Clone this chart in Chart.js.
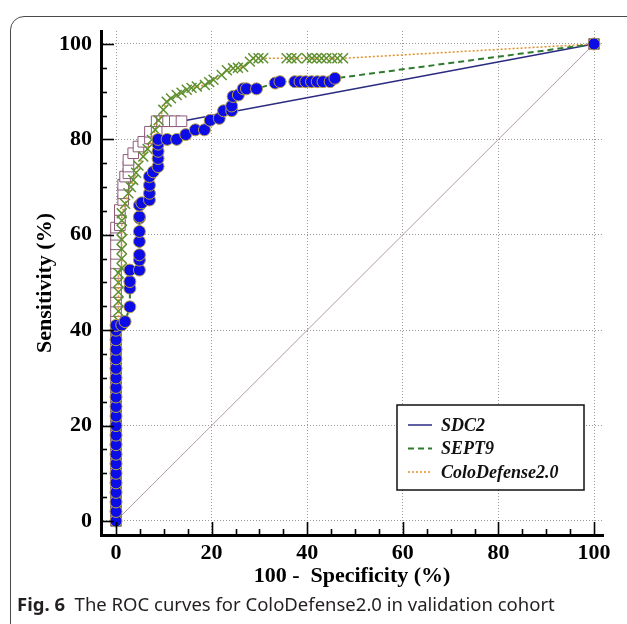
<!DOCTYPE html>
<html>
<head>
<meta charset="utf-8">
<script src="https://cdn.jsdelivr.net/npm/chart.js@4.4.0/dist/chart.umd.min.js"></script>
<style>
body { margin: 0; width: 627px; height: 624px; overflow: hidden; background: #fff; position: relative; }
#frame { position: absolute; left: 10px; top: 16px; width: 650px; height: 650px; border: 1.5px solid #4a4a4a; border-radius: 14px; }
#wrap { position: absolute; left: 0; top: 0; width: 627px; height: 592px; }
#caption { position: absolute; left: 17px; top: 592px; font-family: "Noto Sans", sans-serif; font-size: 18.5px; line-height: 24px; color: #231f20; white-space: nowrap; }
#caption b { font-weight: 700; }
</style>
</head>
<body>
<div id="frame"></div>
<div id="wrap"><canvas id="roc" width="627" height="592"></canvas></div>
<div id="caption"><b>Fig. 6</b>&nbsp; The ROC curves for ColoDefense2.0 in validation cohort</div>

<script>
// tick labels (both axes)
const tickVals = [0, 20, 40, 60, 80, 100];

// legend names
const seriesNames = ["SDC2", "SEPT9", "ColoDefense2.0"];

// SDC2 : 100 - specificity / sensitivity
const sdc2X = [0,0,0,0,0,0,0,0,0,0,0,0,0,0,0,0,0,0,0,0,0,0,0,0,0,0,0,0,0,0,0,0,
  0.8,0.8,0.8,1.5,1.5,1.5,1.9,2.6,2.6,2.6,3.6,4.7,5.7,7.1,7.1,8.5,8.5,9.6,10.9,12.3,13.7,100];
const sdc2Y = [0,2,4,6,8,10,12,14,16,18,20,22,24,26,28,30,32,34,36,38,40,42,44,46,48,50,52,54,56,58,60,61.5,
  62,63.5,65.2,67.3,68.7,70.5,72.2,72.9,74.3,75.7,77.1,78.5,79.5,80.2,81.6,81.6,83.8,83.8,83.8,83.8,83.8,100];

// SEPT9
const sept9X = [0,0,0,0,0,0,0,0,0,0,0,0,0,0,0,0,0,0,0,0,0,0,
  1.2,1.9,2.9,2.9,2.9,2.9,4.9,4.9,4.9,4.9,4.9,4.9,4.9,4.9,5.4,7,7,7,7,7.8,8.8,8.8,8.8,8.8,8.8,
  10.7,12.7,14.6,16.6,18.5,19.7,21.6,22.5,24.2,24.2,24.5,25.6,26.6,27.3,29.4,
  33.3,34.3,37.4,38.5,39.7,40.9,42.1,43.3,44.8,45.8,100];
const sept9Y = [0,2,4,6,8,10,12,14,16,18,20,22,24,26,28,30,32,34,36,38,40,41,
  41.1,41.8,44.9,48.8,50.2,52.6,52.6,54.7,55.8,58.6,60.7,63.5,63.8,66.2,66.7,67.3,68.7,70.4,72.2,73.2,74.3,76,77.5,79,80,
  80,80,81,82,82,84,84.4,86,86,87,89,89.3,90.6,90.6,90.6,
  91.8,92.1,92.1,92.1,92.1,92.1,92.1,92.1,92.1,92.8,100];

// ColoDefense2.0
const coloX = [0,0,0,0,0,0,0,0,0,0,0,0,0,0,0,0,0,0,0,0,0,
  0.5,0.5,0.5,0.5,0.5,0.5,1.2,1.2,1.2,1.2,1.2,1.2,1.2,1.9,2.6,3.1,3.6,4.2,4.7,5.7,6.6,7.5,8.2,8.9,9.9,10.6,11.5,
  12.7,13.7,14.8,15.8,16.9,18.6,19.5,20.4,22.1,23.2,24.5,25.5,26.6,28,28.7,29.8,30.8,
  35.7,36.7,37.8,39.9,41,42,43,44,45.2,46.3,47.5,100];
const coloY = [0,2,4,6,8,10,12,14,16,18,20,22,24,26,28,30,32,34,36,38,40,
  42,44,46,48,50,52,53,55,57,59,61,63,64.5,66.5,68.7,70,71.5,73,74.5,76.4,78,79.9,82,84,86.2,87.9,88.6,
  89.3,89.8,90.4,90.8,91.1,91.4,92,92.5,93.5,94.5,94.9,95,95.2,96.3,97,97,97,
  97,97,97,97,97,97,97,97,97,97,97,100];

// reference diagonal
const diagX = [0, 100];
const diagY = [0, 100];

function pts(xs, ys) {
  return xs.map((x, i) => ({ x: x, y: ys[i] }));
}

const serif = "'Liberation Serif', 'Times New Roman', serif";

// inward minor/major ticks + legend box
const extras = {
  id: "extras",
  afterDraw(chart) {
    const ctx = chart.ctx;
    const xs = chart.scales.x, ys = chart.scales.y;
    const a = chart.chartArea;
    ctx.save();
    ctx.strokeStyle = "#000";
    ctx.lineWidth = 1.6;
    for (let v = 0; v <= 100; v += 5) {
      const len = v % 20 === 0 ? 13 : 6;
      const px = Math.round(xs.getPixelForValue(v)) + 0.5;
      ctx.beginPath(); ctx.moveTo(px, a.bottom); ctx.lineTo(px, a.bottom - len); ctx.stroke();
      const py = Math.round(ys.getPixelForValue(v)) + 0.5;
      ctx.beginPath(); ctx.moveTo(a.left, py); ctx.lineTo(a.left + len, py); ctx.stroke();
    }

    // legend
    const bx = 397, by = 405, bw = 187, bh = 85;
    ctx.fillStyle = "#fff";
    ctx.fillRect(bx, by, bw, bh);
    ctx.lineWidth = 1.5;
    ctx.strokeStyle = "#111";
    ctx.strokeRect(bx, by, bw, bh);
    ctx.font = "italic bold 18px " + serif;
    ctx.textBaseline = "middle";
    seriesNames.forEach((name, i) => {
      const ds = chart.data.datasets.find(d => d.label === name);
      const yy = by + 20 + i * 23.5;
      ctx.strokeStyle = ds.borderColor;
      ctx.lineWidth = ds.borderWidth;
      ctx.setLineDash(ds.borderDash || []);
      ctx.beginPath(); ctx.moveTo(bx + 11, yy); ctx.lineTo(bx + 35, yy); ctx.stroke();
      ctx.setLineDash([]);
      ctx.fillStyle = "#111";
      ctx.fillText(name, bx + 44, yy + 1);
    });
    ctx.restore();
  }
};

new Chart("roc", {
  type: "line",
  data: {
    datasets: [
      {
        label: "SEPT9",
        data: pts(sept9X, sept9Y),
        borderColor: "#2e7a2e",
        borderWidth: 2,
        borderDash: [6, 4],
        pointStyle: "circle",
        pointRadius: 6,
        pointBackgroundColor: "#0c0ce6",
        pointBorderColor: "#b8a048",
        pointBorderWidth: 1,
        order: 1
      },
      {
        label: "ColoDefense2.0",
        data: pts(coloX, coloY),
        borderColor: "#e0902a",
        borderWidth: 1.5,
        borderDash: [2, 2],
        pointStyle: "crossRot",
        pointRadius: 7,
        pointBorderColor: "#5e9030",
        pointBorderWidth: 1.5,
        order: 2
      },
      {
        label: "SDC2",
        data: pts(sdc2X, sdc2Y),
        borderColor: "#2b2b80",
        borderWidth: 1.5,
        pointStyle: "rect",
        pointRadius: 7.5,
        pointBackgroundColor: "#fff",
        pointBorderColor: "#8c5a7a",
        pointBorderWidth: 1,
        order: 3
      },
      {
        label: "diag",
        data: pts(diagX, diagY),
        borderColor: "#b49aa8",
        borderWidth: 1,
        pointRadius: 0,
        order: 4
      }
    ]
  },
  options: {
    responsive: false,
    devicePixelRatio: 1,
    animation: false,
    layout: { padding: { left: 0, right: 24, top: 31, bottom: 2 } },
    plugins: { legend: { display: false }, tooltip: { enabled: false } },
    scales: {
      x: {
        type: "linear",
        min: -3.14,
        max: 101.88,
        afterBuildTicks: s => { s.ticks = tickVals.map(v => ({ value: v })); },
        afterFit: s => { s.height = 55; },
        grid: { color: "#9a9a9a", lineWidth: 1, drawTicks: false },
        border: { display: true, color: "#000", width: 3, dash: [1, 2] },
        ticks: { padding: 5, color: "#000", font: { family: serif, size: 22, weight: "bold" } },
        title: { display: true, text: "100 -  Specificity (%)", color: "#000", padding: { top: 0, bottom: 0 },
          font: { family: serif, size: 22, weight: "bold" } }
      },
      y: {
        type: "linear",
        min: -2.935,
        max: 102.72,
        afterBuildTicks: s => { s.ticks = tickVals.map(v => ({ value: v })); },
        afterFit: s => { s.width = 101; },
        grid: { color: "#9a9a9a", lineWidth: 1, drawTicks: false },
        border: { display: true, color: "#000", width: 3, dash: [1, 2] },
        ticks: { padding: 9, color: "#000", font: { family: serif, size: 22, weight: "bold" } },
        title: { display: true, text: "Sensitivity (%)", color: "#000", padding: { top: 32, bottom: 0 },
          font: { family: serif, size: 22, weight: "bold" } }
      }
    }
  },
  plugins: [extras]
});
</script>
</body>
</html>
